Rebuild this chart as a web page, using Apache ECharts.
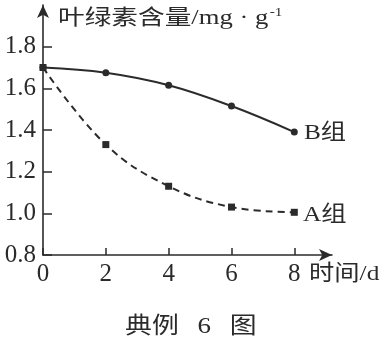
<!DOCTYPE html>
<html><head><meta charset="utf-8">
<script src="https://cdn.jsdelivr.net/npm/echarts@6/dist/echarts.min.js"></script>
<style>html,body{margin:0;padding:0;background:#fff}#c{width:384px;height:353px}</style>
</head><body><div id="c"></div>
<script>
const days = [0, 2, 4, 6, 8];
const groupB = [1.70, 1.675, 1.615, 1.515, 1.39];
const groupA = [1.70, 1.33, 1.13, 1.03, 1.005];
const yTicks = [0.8, 1.0, 1.2, 1.4, 1.6, 1.8];
const xTicks = [0, 2, 4, 6, 8];
const yTitle = '叶绿素含量/mg · g';
const yTitleSup = '-1';
const xTitle = '时间/d';
const labelB = 'B组';
const labelA = 'A组';
const captionParts = ['典例', '6', '图'];

const INK = '#2b2b2b';
const FONT = '"Liberation Serif", "Noto Sans CJK SC", serif';
const chart = echarts.init(document.getElementById('c'), null, {renderer: 'canvas'});
chart.setOption({
  animation: false,
  backgroundColor: '#fff',
  grid: {left: 43, right: 52, top: 5, bottom: 98},
  xAxis: {
    type: 'value', min: 0, max: 9.2,
    axisLine: {show: true, lineStyle: {color: INK, width: 1.6}, symbol: ['none', 'arrow'], symbolSize: [9, 13]},
    axisTick: {show: true, inside: true, length: 7, lineStyle: {color: INK, width: 1.5}, customValues: xTicks},
    axisLabel: {customValues: xTicks, color: INK, fontFamily: FONT, fontSize: 25, margin: 7},
    splitLine: {show: false}
  },
  yAxis: {
    type: 'value', min: 0.8, max: 2.0,
    axisLine: {show: true, lineStyle: {color: INK, width: 1.6}, symbol: ['none', 'arrow'], symbolSize: [9, 13]},
    axisTick: {show: true, inside: true, length: 9, lineStyle: {color: INK, width: 1.5}, customValues: yTicks},
    axisLabel: {customValues: yTicks, color: INK, fontFamily: FONT, fontSize: 25, margin: 7, formatter: v => v.toFixed(1)},
    splitLine: {show: false}
  },
  series: [
    {
      name: labelB, type: 'line', smooth: 0.4,
      data: days.map((d, i) => [d, groupB[i]]),
      symbol: 'circle', symbolSize: 7,
      itemStyle: {color: INK},
      lineStyle: {color: INK, width: 2, type: 'solid'}
    },
    {
      name: labelA, type: 'line', smooth: 0.4,
      data: days.map((d, i) => [d, groupA[i]]),
      symbol: 'rect', symbolSize: 7,
      itemStyle: {color: INK},
      lineStyle: {color: INK, width: 2, type: [7, 5]}
    }
  ],
  graphic: [
    {type: 'text', x: 58, y: 18, scaleX: 1.27, style: {
      text: '{a|' + yTitle + '}{s|' + yTitleSup + '}', fill: INK, verticalAlign: 'middle',
      rich: {a: {fontFamily: FONT, fontSize: 21, fill: INK}, s: {fontFamily: FONT, fontSize: 12, fill: INK, verticalAlign: 'top', padding: [0, 0, 10, 1]}}
    }},
    {type: 'text', x: 309, y: 274, scaleX: 1.15, style: {text: xTitle, font: '22px ' + FONT, fill: INK, verticalAlign: 'middle'}},
    {type: 'text', x: 304, y: 133, scaleX: 1.15, style: {text: labelB, font: '22px ' + FONT, fill: INK, verticalAlign: 'middle'}},
    {type: 'text', x: 303, y: 215, scaleX: 1.15, style: {text: labelA, font: '22px ' + FONT, fill: INK, verticalAlign: 'middle'}},
    {type: 'text', x: 125, y: 327, scaleX: 1.17, style: {
      text: '{a|' + captionParts[0] + '}{p| }{a|' + captionParts[1] + '}{p| }{a|' + captionParts[2] + '}',
      verticalAlign: 'middle', fill: INK,
      rich: {a: {fontFamily: FONT, fontSize: 23, fill: INK}, p: {fontFamily: FONT, fontSize: 23, width: 16}}
    }}
  ]
});
</script></body></html>
